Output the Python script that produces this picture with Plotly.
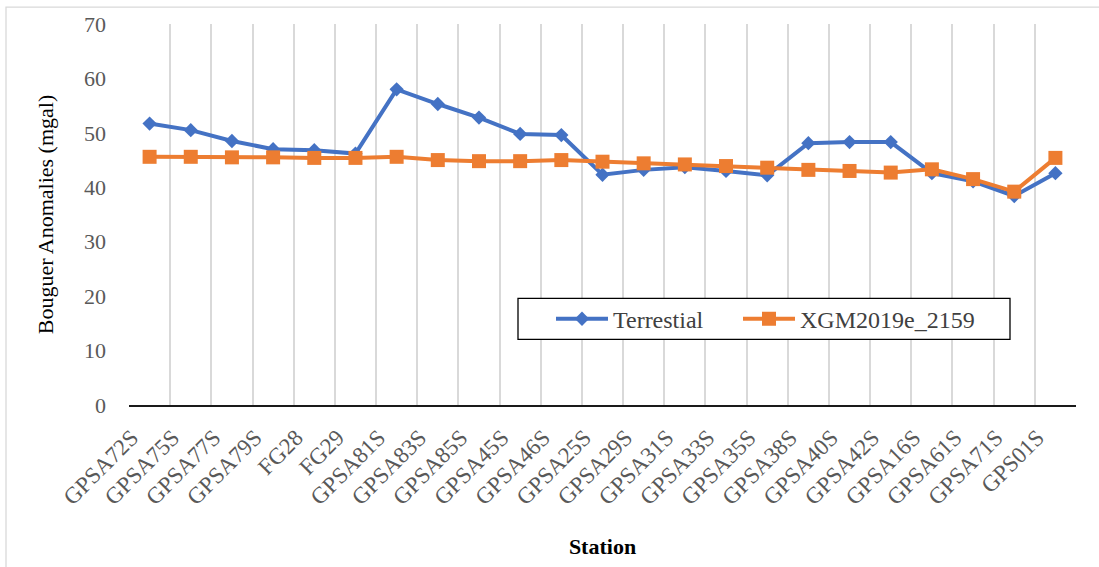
import plotly.graph_objects as go

# Stations along the survey profile
stations = [
    "GPSA72S", "GPSA75S", "GPSA77S", "GPSA79S", "FG28", "FG29", "GPSA81S",
    "GPSA83S", "GPSA85S", "GPSA45S", "GPSA46S", "GPSA25S", "GPSA29S",
    "GPSA31S", "GPSA33S", "GPSA35S", "GPSA38S", "GPSA40S", "GPSA42S",
    "GPSA16S", "GPSA61S", "GPSA71S", "GPS01S",
]

# Bouguer anomalies (mgal)
terrestial = [
    51.7, 50.5, 48.5, 47.0, 46.8, 46.2, 58.0, 55.3, 52.8, 49.8, 49.6, 42.3,
    43.2, 43.7, 43.0, 42.2, 48.1, 48.3, 48.3, 42.6, 41.1, 38.4, 42.6,
]
xgm2019e = [
    45.6, 45.6, 45.5, 45.5, 45.4, 45.4, 45.6, 45.0, 44.8, 44.8, 45.0, 44.7,
    44.4, 44.2, 43.9, 43.6, 43.2, 43.0, 42.7, 43.3, 41.5, 39.2, 45.4,
]

y_ticks = [0, 10, 20, 30, 40, 50, 60, 70]

FONT = "Liberation Serif"
BLUE = "#4472C4"
ORANGE = "#ED7D31"
GRID = "#d9d9d9"

fig = go.Figure()
fig.add_trace(go.Scatter(
    x=stations, y=terrestial, name="Terrestial", mode="lines+markers",
    line=dict(color=BLUE, width=4),
    marker=dict(symbol="diamond", size=11, color=BLUE),
    legend="legend",
))
fig.add_trace(go.Scatter(
    x=stations, y=xgm2019e, name="XGM2019e_2159", mode="lines+markers",
    line=dict(color=ORANGE, width=4),
    marker=dict(symbol="square", size=14, color=ORANGE),
    legend="legend2",
))

L, R, T, B = 129, 23, 22, 159
W, H = 1099, 567
pw, ph = W - L - R, H - T - B


def px_x(x):
    return (x - L) / pw


def px_y(y):
    return (H - B - y) / ph


def legend_at(x_px):
    return dict(
        orientation="h",
        x=px_x(x_px), xanchor="left",
        y=px_y(321), yanchor="middle",
        bgcolor="rgba(0,0,0,0)", borderwidth=0,
        font=dict(family=FONT, size=24, color="#404040"),
        itemwidth=52,
    )


fig.update_layout(
    width=W, height=H,
    margin=dict(l=L, r=R, t=T, b=B, pad=0),
    paper_bgcolor="white", plot_bgcolor="white",
    font=dict(family=FONT, color="#595959"),
    showlegend=True,
    legend=legend_at(551),
    legend2=legend_at(738),
    xaxis=dict(
        type="category",
        range=[-0.5, len(stations) - 0.5],
        tickson="boundaries",
        showgrid=True, gridcolor=GRID, gridwidth=1.5,
        showline=True, linecolor="#1a1a1a", linewidth=2,
        ticks="", tickangle=-45,
        tickfont=dict(family=FONT, size=23, color="#595959"),
        ticklabelstandoff=8, ticklabelshift=-18,
        title=dict(text="Station", standoff=30,
                   font=dict(family=FONT, size=22, color="#000000",
                             weight=700)),
        zeroline=False,
    ),
    yaxis=dict(
        range=[0, 70], tickvals=y_ticks,
        showgrid=False, zeroline=False, showline=False,
        ticks="",
        tickfont=dict(family=FONT, size=22, color="#595959"),
        ticklabelstandoff=22,
        title=dict(text="Bouguer Anomalies (mgal)", standoff=24,
                   font=dict(family=FONT, size=22, color="#000000")),
    ),
    shapes=[
        # outer chart frame
        dict(
            type="rect", xref="paper", yref="paper",
            x0=px_x(6), x1=px_x(W + 20), y0=px_y(H + 20), y1=px_y(5),
            line=dict(color=GRID, width=1.3), fillcolor="rgba(0,0,0,0)",
            layer="below",
        ),
        # legend frame
        dict(
            type="rect", xref="paper", yref="paper",
            x0=px_x(518), x1=px_x(1010), y0=px_y(341.5), y1=px_y(300),
            line=dict(color="#000000", width=1.3), fillcolor="white",
            layer="above",
        ),
    ],
)

fig.write_html("out.html")
